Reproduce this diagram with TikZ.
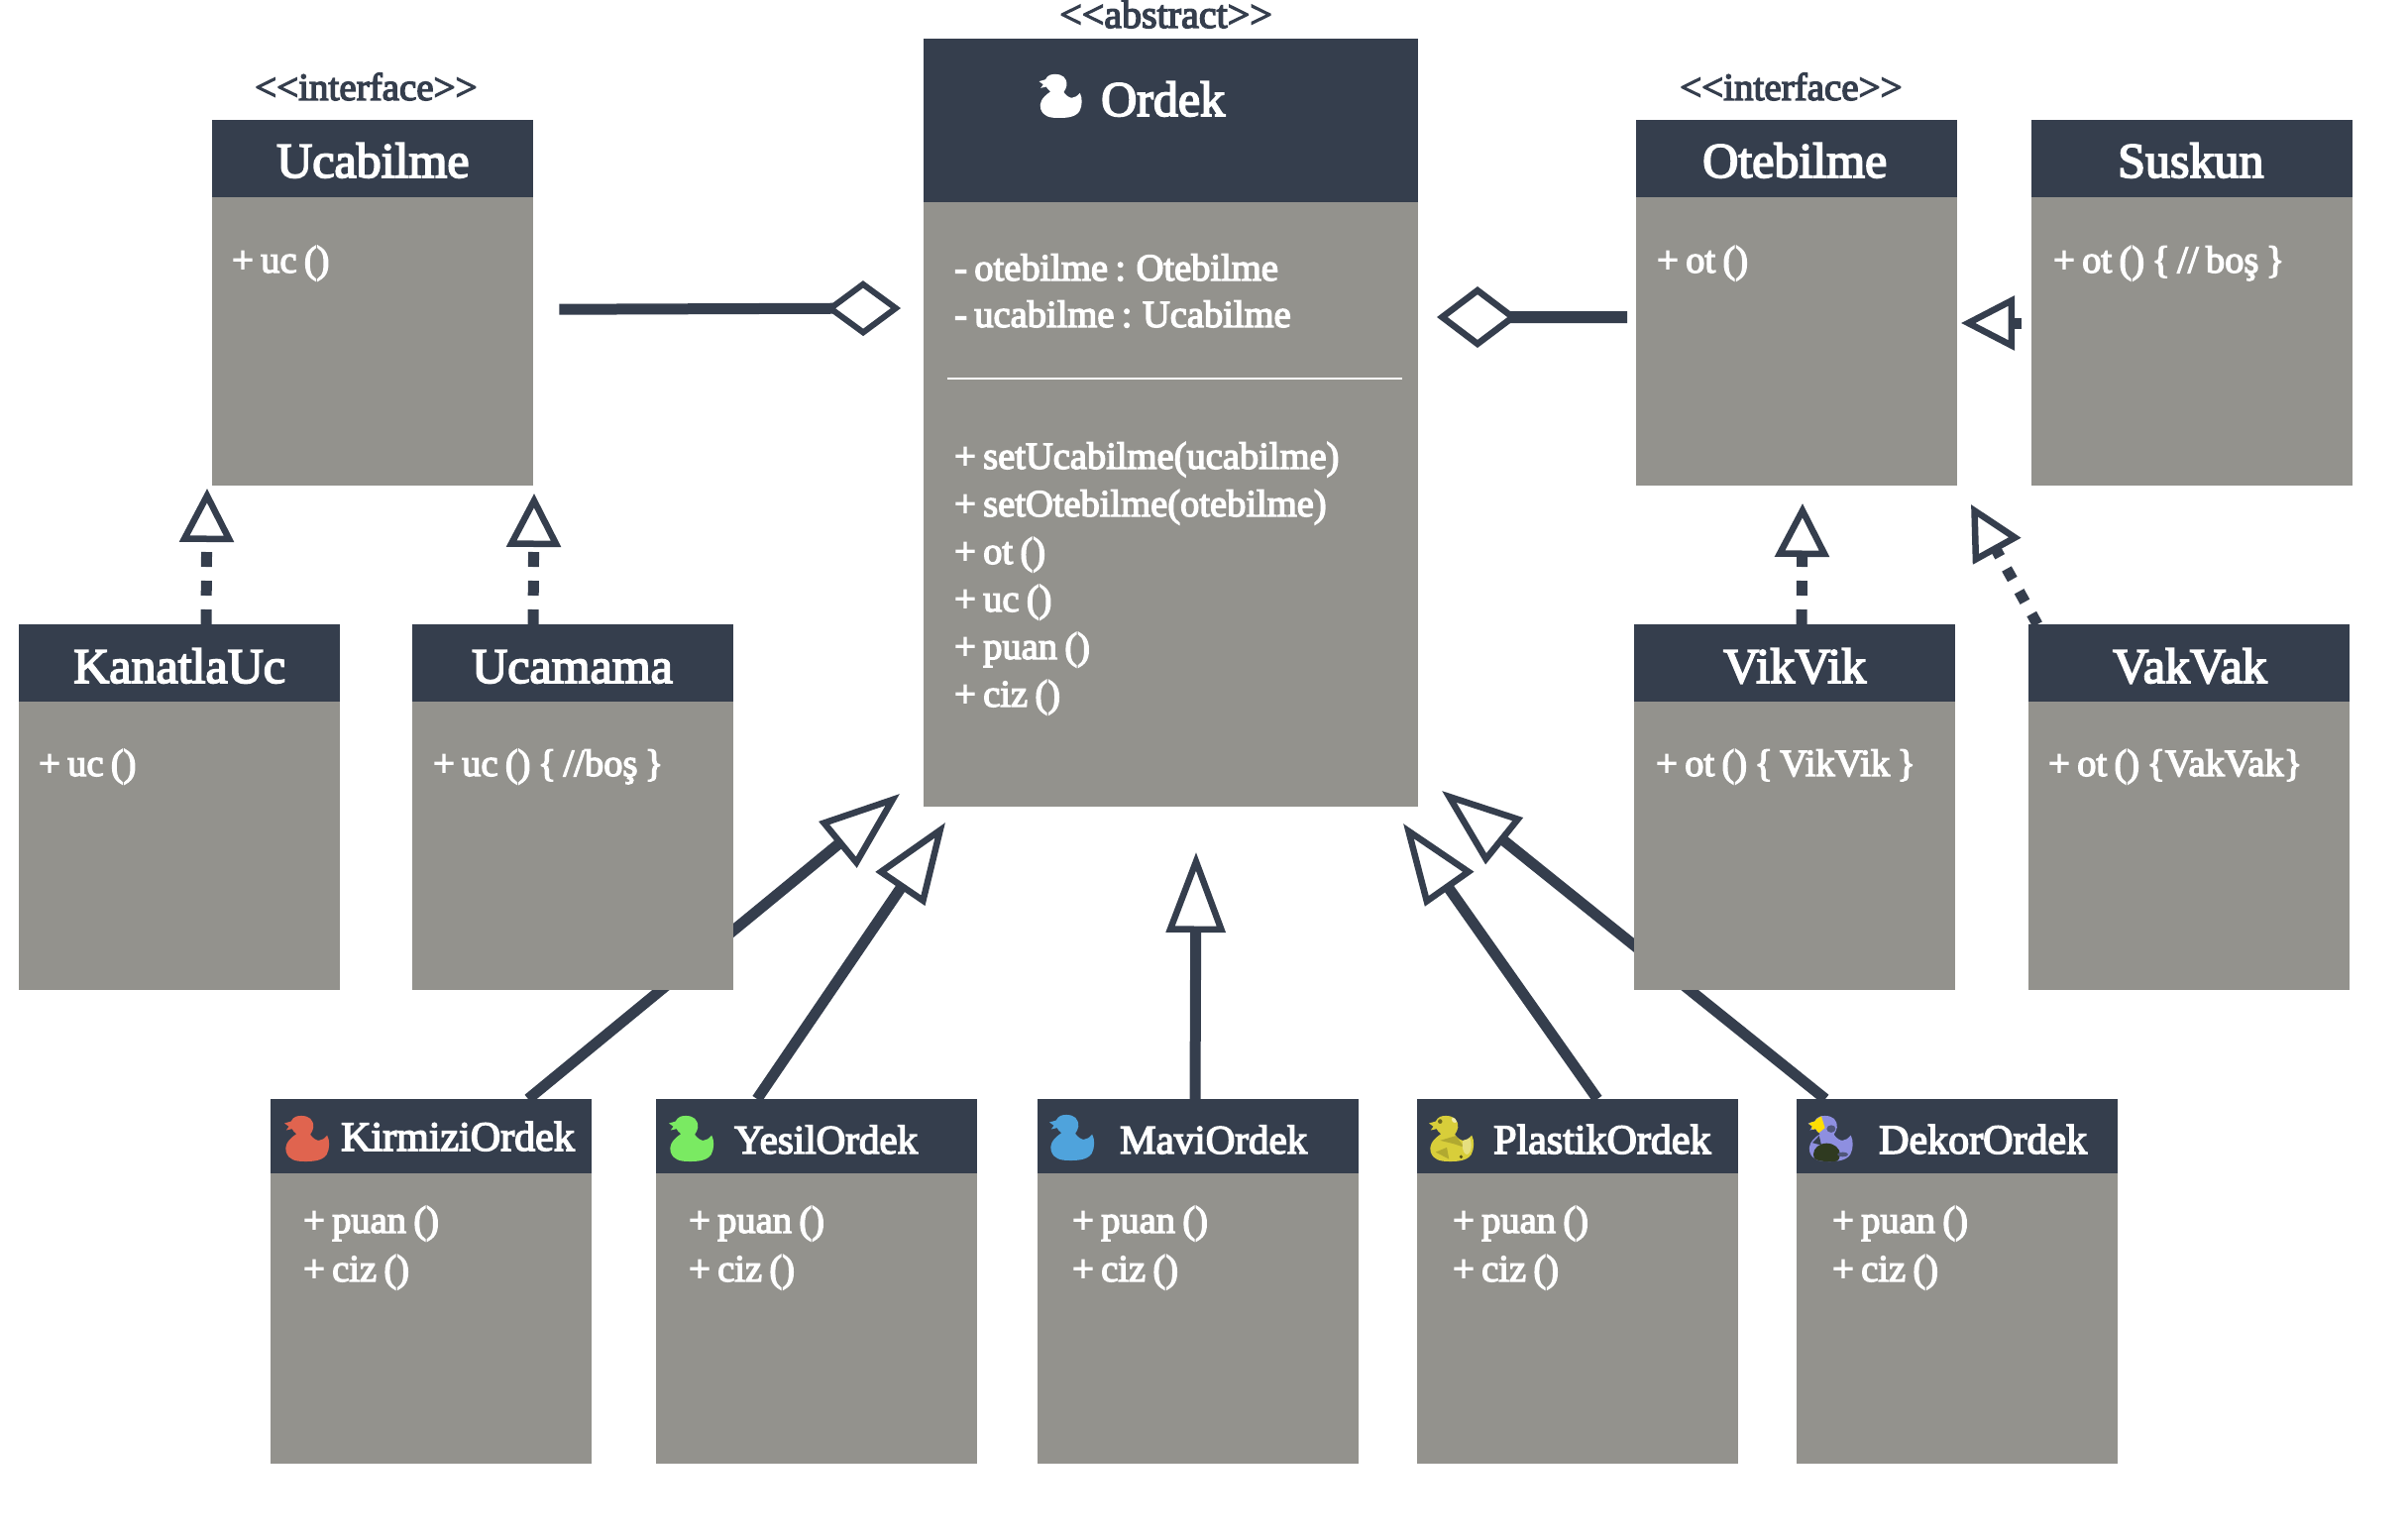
\documentclass[tikz,border=0pt]{standalone}
\usepackage{fontspec}
\usetikzlibrary{arrows.meta}
\newfontfamily\umlfont{Liberation Serif}[FakeBold=3.5,WordSpace=0.76]
\definecolor{headc}{HTML}{353E4D}
\definecolor{bodyc}{HTML}{93928D}
\definecolor{ducred}{HTML}{E0644F}
\definecolor{ducgreen}{HTML}{7AEA62}
\definecolor{ducblue}{HTML}{4FA3DC}
\definecolor{ducyellow}{HTML}{D8CE3A}
\definecolor{ducpurple}{HTML}{8E8FE0}
\definecolor{ducdark}{HTML}{2F3A20}
\pgfdeclarelayer{under}
\pgfsetlayers{under,main}
\tikzset{
  x=1pt,y=-1pt,
  classhead/.style={fill=headc,draw=none,inner sep=0pt,anchor=north west,minimum width=324pt},
  classbody/.style={fill=bodyc,draw=none,inner sep=0pt,anchor=north west,minimum width=324pt},
  headtxt/.style={anchor=base west,inner sep=0pt,text=white,font=\umlfont\fontsize{50}{60}\selectfont},
  smalltxt/.style={anchor=base west,inner sep=0pt,text=white,font=\umlfont\fontsize{42}{50}\selectfont},
  narrowtxt/.style={anchor=base west,inner sep=0pt,text=white,font=\umlfont\fontsize{41}{50}\selectfont},
  linetxt/.style={anchor=base west,inner sep=0pt,text=white,font=\umlfont\fontsize{38.5}{46}\selectfont},
  stereo/.style={anchor=base west,inner sep=0pt,text=headc,font=\umlfont\fontsize{39}{46}\selectfont},
  gen/.style={draw=headc,line width=11pt,-{Triangle[open,length=81pt,width=59pt,line width=6.5pt]}},
  real/.style={draw=headc,line width=11pt,dash pattern=on 15pt off 14pt,-{Triangle[open,length=54pt,width=54pt,line width=6.5pt]}},
  agg/.style={draw=headc,line width=11pt,-{Diamond[open,length=76pt,width=56pt,line width=6pt]}},
  aggbig/.style={draw=headc,line width=12pt,-{Diamond[open,length=82pt,width=62pt,line width=6.5pt]}}
}
\newcommand{\duckshape}{(0,0.18) -- (0.15,0.14) .. controls (0.2,0.03) and (0.3,0.02) .. (0.38,0.02)
  .. controls (0.55,0.02) and (0.66,0.1) .. (0.65,0.27)
  .. controls (0.65,0.33) and (0.6,0.38) .. (0.58,0.42)
  .. controls (0.63,0.5) and (0.72,0.55) .. (0.77,0.55)
  .. controls (0.85,0.55) and (0.9,0.5) .. (0.96,0.44)
  .. controls (1.02,0.55) and (1.02,0.72) .. (0.95,0.85)
  .. controls (0.85,1) and (0.6,1) .. (0.46,1)
  .. controls (0.25,1) and (0.1,0.97) .. (0.04,0.8)
  .. controls (0,0.68) and (0.05,0.55) .. (0.27,0.41)
  .. controls (0.22,0.37) and (0.19,0.34) .. (0.17,0.3)
  -- (0.04,0.33) -- (0.1,0.25) -- cycle}
\begin{document}
\begin{tikzpicture}
\useasboundingbox (0,0) rectangle (2430,1552);

% Ordek
\node[stereo,font=\umlfont\fontsize{40}{46}\selectfont] (abs) at (1069,28) {<<abstract>>};
\node[classbody,minimum width=499pt,minimum height=611pt] (ordekB) at (932,203) {};
\node[classhead,minimum width=499pt,minimum height=165pt] (ordekH) at (932,39) {};
\node[headtxt] (ordekT) at (1111,117) {Ordek};
\node[linetxt] (oa1) at (963,283) {- otebilme : Otebilme};
\node[linetxt] (oa2) at (963,330) {- ucabilme : Ucabilme};
\draw[white,line width=2pt] (955.5,382) -- (1415,382);
\node[linetxt] (om1) at (963,473) {+ setUcabilme(ucabilme)};
\node[linetxt] (om2) at (963,521) {+ setOtebilme(otebilme)};
\node[linetxt] (om3) at (963,569) {+ ot ()};
\node[linetxt] (om4) at (963,617) {+ uc ()};
\node[linetxt] (om5) at (963,665) {+ puan ()};
\node[linetxt] (om6) at (963,713) {+ ciz ()};

% top row
\node[stereo] (st1) at (257,101) {<<interface>>};
\node[stereo] (st2) at (1695,101) {<<interface>>};
\node[classbody,minimum height=292pt] (ucabilmeB) at (214,198) {};
\node[classhead,minimum height=78pt] (ucabilmeH) at (214,121) {};
\node[headtxt] (ucabilmeT) at (279,179) {Ucabilme};
\node[linetxt] (ucabilmeL) at (234,275) {+ uc ()};

\node[classbody,minimum height=292pt] (otebilmeB) at (1651,198) {};
\node[classhead,minimum height=78pt] (otebilmeH) at (1651,121) {};
\node[headtxt] (otebilmeT) at (1718,179) {Otebilme};
\node[linetxt] (otebilmeL) at (1672,275) {+ ot ()};

\node[classbody,minimum height=292pt] (suskunB) at (2050,198) {};
\node[classhead,minimum height=78pt] (suskunH) at (2050,121) {};
\node[headtxt] (suskunT) at (2137,179) {Suskun};
\node[linetxt] (suskunL) at (2072,275) {+ ot () \{ // boş \}};

% middle row
\node[classbody,minimum height=292pt] (kanatB) at (19,707) {};
\node[classhead,minimum height=78pt] (kanatH) at (19,630) {};
\node[headtxt] (kanatT) at (74,689) {KanatlaUc};
\node[linetxt] (kanatL) at (39,783) {+ uc ()};

\node[classbody,minimum height=292pt] (ucamamaB) at (416,707) {};
\node[classhead,minimum height=78pt] (ucamamaH) at (416,630) {};
\node[headtxt] (ucamamaT) at (476,689) {Ucamama};
\node[linetxt] (ucamamaL) at (437,783) {+ uc () \{ //boş \}};

\node[classbody,minimum height=292pt] (vikB) at (1649,707) {};
\node[classhead,minimum height=78pt] (vikH) at (1649,630) {};
\node[headtxt] (vikT) at (1739,689) {VikVik};
\node[linetxt] (vikL) at (1671,783) {+ ot () \{ VikVik \}};

\node[classbody,minimum height=292pt] (vakB) at (2047,707) {};
\node[classhead,minimum height=78pt] (vakH) at (2047,630) {};
\node[headtxt] (vakT) at (2132,689) {VakVak};
\node[linetxt] (vakL) at (2067,783) {+ ot () \{VakVak\}};

% bottom row
\node[classbody,minimum height=293pt] (kirB) at (273,1184) {};
\node[classhead,minimum height=75pt] (kirH) at (273,1109) {};
\node[smalltxt] (kirT) at (344,1161) {KirmiziOrdek};
\node[linetxt] (kirL1) at (306,1244) {+ puan ()};
\node[linetxt] (kirL2) at (306,1293) {+ ciz ()};

\node[classbody,minimum height=293pt] (yesB) at (662,1184) {};
\node[classhead,minimum height=75pt] (yesH) at (662,1109) {};
\node[narrowtxt] (yesT) at (741,1164) {YesilOrdek};
\node[linetxt] (yesL1) at (695,1244) {+ puan ()};
\node[linetxt] (yesL2) at (695,1293) {+ ciz ()};

\node[classbody,minimum height=293pt] (mavB) at (1047,1184) {};
\node[classhead,minimum height=75pt] (mavH) at (1047,1109) {};
\node[narrowtxt] (mavT) at (1130,1164) {MaviOrdek};
\node[linetxt] (mavL1) at (1082,1244) {+ puan ()};
\node[linetxt] (mavL2) at (1082,1293) {+ ciz ()};

\node[classbody,minimum height=293pt] (plaB) at (1430,1184) {};
\node[classhead,minimum height=75pt] (plaH) at (1430,1109) {};
\node[smalltxt] (plaT) at (1507,1164) {PlastikOrdek};
\node[linetxt] (plaL1) at (1466,1244) {+ puan ()};
\node[linetxt] (plaL2) at (1466,1293) {+ ciz ()};

\node[classbody,minimum height=293pt] (dekB) at (1813,1184) {};
\node[classhead,minimum height=75pt] (dekH) at (1813,1109) {};
\node[smalltxt] (dekT) at (1896,1164) {DekorOrdek};
\node[linetxt] (dekL1) at (1849,1244) {+ puan ()};
\node[linetxt] (dekL2) at (1849,1293) {+ ciz ()};

% ducks
\begin{scope}[shift={(1048.5,74)},x=43pt,y=-45pt]
  \fill[white] \duckshape;
\end{scope}
\begin{scope}[shift={(287,1125)},x=45pt,y=-47pt]
  \fill[ducred] \duckshape;
\end{scope}
\begin{scope}[shift={(675,1125)},x=45pt,y=-47pt]
  \fill[ducgreen] \duckshape;
\end{scope}
\begin{scope}[shift={(1059,1124)},x=45pt,y=-47pt]
  \fill[ducblue] \duckshape;
\end{scope}
\begin{scope}[shift={(1442,1125)},x=45pt,y=-47pt]
  \clip \duckshape;
  \fill[ducyellow] (-0.1,-0.1) rectangle (1.1,1.1);
  \fill[black!18!ducyellow] (0.25,0.55) -- (0.6,0.45) -- (0.8,0.7) -- (0.55,0.62) -- cycle;
  \fill[black!18!ducyellow] (0.15,0.8) -- (0.4,0.7) -- (0.45,0.95) -- cycle;
  \fill[black!50!ducyellow] (0.25,0.14) circle[radius=0.05];
  \fill[black!60!ducyellow] (0.72,0.9) circle[radius=0.04];
  \fill[white!60!ducyellow] (0.58,0.1) circle[radius=0.07];
  \fill[white!35!ducyellow] (0.85,0.65) ellipse[x radius=0.1,y radius=0.2];
\end{scope}
\begin{scope}[shift={(1824.5,1125)},x=45pt,y=-47pt]
  \clip \duckshape;
  \fill[ducpurple] (-0.1,-0.1) rectangle (1.1,1.1);
  \fill[headc!70!ducpurple] (0.52,0.3) ellipse[x radius=0.1,y radius=0.08];
  \fill[headc] (0.1,0.6) -- (0.25,0.45) -- (0.3,0.65) -- cycle;
  \fill[ducdark] (0.42,0.85) ellipse[x radius=0.3,y radius=0.24];
  \fill[headc!70!ducpurple] (0.78,0.85) ellipse[x radius=0.12,y radius=0.05];
  \fill[yellow!80!orange] (0,0.2) -- (0.3,0.03) -- (0.38,0.28) -- (0.2,0.42) -- cycle;
\end{scope}

% connectors
\coordinate (kanTip) at (209,493);
\coordinate (ucaTip) at (539,498);
\coordinate (aggL) at (909,311);
\coordinate (aggR) at (1450,320);
\coordinate (susTip) at (1979,326);
\coordinate (vikTip) at (1819,508);
\coordinate (vakTip) at (1989,509);
\coordinate (kirTip) at (908,801);
\coordinate (yesTip) at (954,830);
\coordinate (mavTip) at (1207,860);
\coordinate (plaTip) at (1416,831);
\coordinate (dekTip) at (1455,798);
\begin{pgfonlayer}{under}
  \draw[real] ([xshift=189pt]kanatH.north west) -- (kanTip);
  \draw[real] ([xshift=122pt]ucamamaH.north west) -- (ucaTip);
  \draw[agg] ([xshift=26pt,yshift=32pt]ucabilmeB.east) -- (aggL);
  \draw[aggbig] ([xshift=-9pt,yshift=24pt]otebilmeB.west) -- (aggR);
  \draw[real,dash phase=19pt] ([yshift=-128pt]suskunB.north west) -- (susTip);
  \draw[real] ([xshift=169pt]vikH.north west) -- (vikTip);
  \draw[real,dash pattern=on 12pt off 14pt] ([xshift=9pt]vakH.north west) -- (vakTip);
  \draw[gen] ([xshift=260pt]kirH.north west) -- (kirTip);
  \draw[gen] ([xshift=102pt]yesH.north west) -- (yesTip);
  \draw[gen] ([xshift=159pt]mavH.north west) -- (mavTip);
  \draw[gen] ([xshift=182pt]plaH.north west) -- (plaTip);
  \draw[gen] ([xshift=29pt]dekH.north west) -- (dekTip);
\end{pgfonlayer}
\end{tikzpicture}
\end{document}
